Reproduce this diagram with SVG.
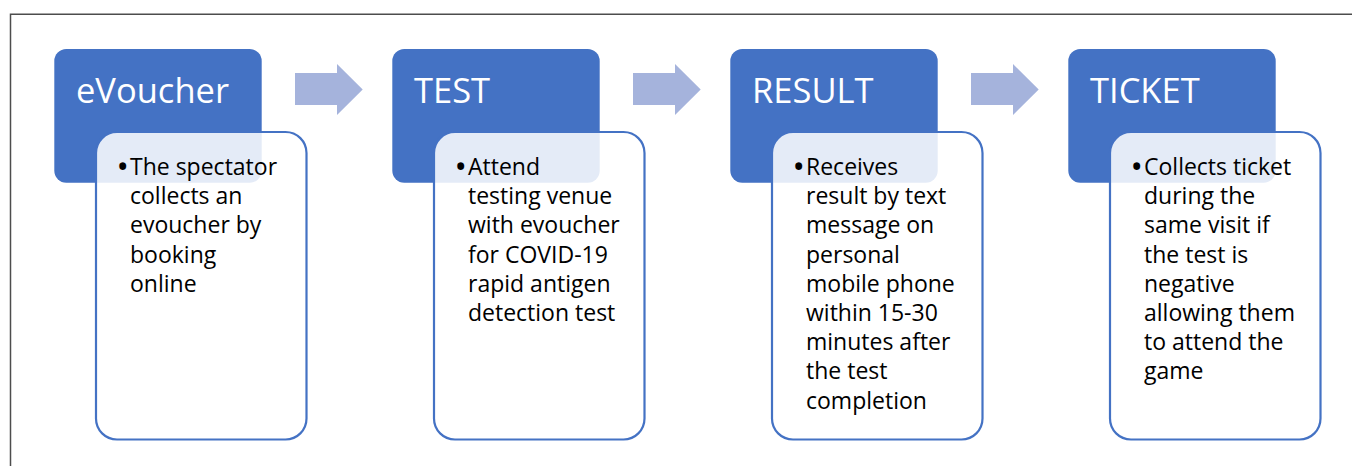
<svg xmlns="http://www.w3.org/2000/svg" width="1352" height="466" viewBox="0 0 1352 466">
<defs>
<style>
.hdr{fill:#4472C4}
.box{fill:#FFFFFF;fill-opacity:0.86;stroke:#4472C4;stroke-width:2.2}
.ttl{font-family:"Open Sans","Liberation Sans",sans-serif;font-size:34.5px;fill:#FFFFFF}
.txt{font-family:"Open Sans","Liberation Sans",sans-serif;font-size:23px;fill:#000000}
.bul{font-size:33px}
.arr{fill:#A5B3DC}
</style>
<polygon id="arrowShape" class="arr" points="0,0 42,0 42,-9 67.7,16.5 42,42 42,32 0,32"/>
</defs>
<rect width="1352" height="466" fill="#FFFFFF"/>
<path d="M10.5,466 V14.3 H1352" fill="none" stroke="#4D4D4D" stroke-width="1.5"/>
<g id="connectors">
<use href="#arrowShape" x="295" y="73"/>
<use href="#arrowShape" x="633" y="73"/>
<use href="#arrowShape" x="971" y="73"/>
</g>
<g id="node-evoucher">
<rect class="hdr" x="54.3" y="49" width="207.4" height="133.7" rx="12"/>
<text class="ttl" x="76" y="103">eVoucher</text>
<rect class="box" x="96" y="132" width="210.5" height="307.5" rx="21"/>
<text class="txt"><tspan class="bul" x="116.5" y="178">•</tspan><tspan x="130" y="175">The spectator</tspan><tspan x="130" y="204.2">collects an</tspan><tspan x="130" y="233.4">evoucher by</tspan><tspan x="130" y="262.6">booking</tspan><tspan x="130" y="291.8">online</tspan></text>
</g>
<g id="node-test">
<rect class="hdr" x="392.3" y="49" width="207.4" height="133.7" rx="12"/>
<text class="ttl" x="414" y="103">TEST</text>
<rect class="box" x="434" y="132" width="210.5" height="307.5" rx="21"/>
<text class="txt"><tspan class="bul" x="454.5" y="178">•</tspan><tspan x="468" y="175">Attend</tspan><tspan x="468" y="204.2">testing venue</tspan><tspan x="468" y="233.4">with evoucher</tspan><tspan x="468" y="262.6">for COVID-19</tspan><tspan x="468" y="291.8">rapid antigen</tspan><tspan x="468" y="321">detection test</tspan></text>
</g>
<g id="node-result">
<rect class="hdr" x="730.3" y="49" width="207.4" height="133.7" rx="12"/>
<text class="ttl" x="752" y="103">RESULT</text>
<rect class="box" x="772" y="132" width="210.5" height="307.5" rx="21"/>
<text class="txt"><tspan class="bul" x="792.5" y="178">•</tspan><tspan x="806" y="175">Receives</tspan><tspan x="806" y="204.2">result by text</tspan><tspan x="806" y="233.4">message on</tspan><tspan x="806" y="262.6">personal</tspan><tspan x="806" y="291.8">mobile phone</tspan><tspan x="806" y="321">within 15-30</tspan><tspan x="806" y="350.2">minutes after</tspan><tspan x="806" y="379.4">the test</tspan><tspan x="806" y="408.6">completion</tspan></text>
</g>
<g id="node-ticket">
<rect class="hdr" x="1068.3" y="49" width="207.4" height="133.7" rx="12"/>
<text class="ttl" x="1090" y="103">TICKET</text>
<rect class="box" x="1110" y="132" width="210.5" height="307.5" rx="21"/>
<text class="txt"><tspan class="bul" x="1130.5" y="178">•</tspan><tspan x="1144" y="175">Collects ticket</tspan><tspan x="1144" y="204.2">during the</tspan><tspan x="1144" y="233.4">same visit if</tspan><tspan x="1144" y="262.6">the test is</tspan><tspan x="1144" y="291.8">negative</tspan><tspan x="1144" y="321">allowing them</tspan><tspan x="1144" y="350.2">to attend the</tspan><tspan x="1144" y="379.4">game</tspan></text>
</g>
</svg>
